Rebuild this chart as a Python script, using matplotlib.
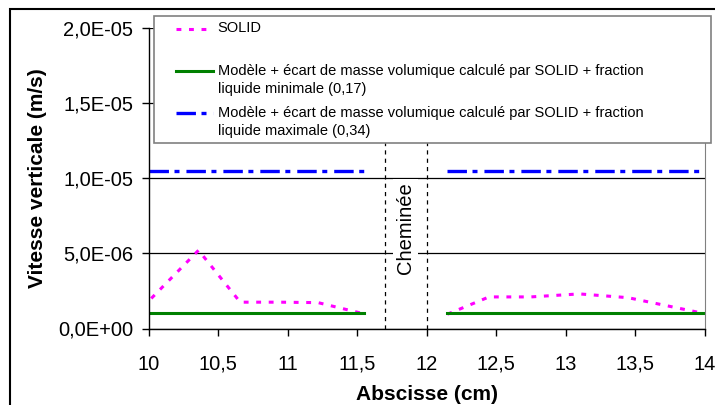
import matplotlib
matplotlib.use("Agg")
import matplotlib.pyplot as plt
from matplotlib.patches import Rectangle
from matplotlib.lines import Line2D

plt.rcParams['font.family'] = ['Liberation Sans', 'DejaVu Sans']
plt.rcParams['lines.scale_dashes'] = False

# --- données ---
solid_x_g = [10.02, 10.36, 10.66, 10.95, 11.22, 11.54]
solid_y_g = [2.0e-6, 5.2e-6, 1.75e-6, 1.75e-6, 1.72e-6, 1.0e-6]
solid_x_d = [12.15, 12.45, 12.75, 13.1, 13.45, 13.97]
solid_y_d = [0.95e-6, 2.1e-6, 2.1e-6, 2.3e-6, 2.05e-6, 1.05e-6]

modele_x_g = [10.0, 11.55]
modele_x_d = [12.15, 14.0]
v_min = [1.0e-6, 1.0e-6]      # fraction liquide 0,17
v_max = [1.05e-5, 1.05e-5]    # fraction liquide 0,34

cheminee = [11.70, 12.0]

xticks = [10, 10.5, 11, 11.5, 12, 12.5, 13, 13.5, 14]
yticks = [0, 5e-6, 1e-5, 1.5e-5, 2e-5]
ylabels = ["0,0E+00", "5,0E-06", "1,0E-05", "1,5E-05", "2,0E-05"]

leg_labels = [
    ["SOLID"],
    ["Modèle + écart de masse volumique calculé par SOLID + fraction",
     "liquide minimale (0,17)"],
    ["Modèle + écart de masse volumique calculé par SOLID + fraction",
     "liquide maximale (0,34)"],
]

W, H = 715, 405
fig = plt.figure(figsize=(W / 100, H / 100), dpi=100)
ax = fig.add_axes([148.5 / W, 1 - 328.5 / H, 556 / W, 300.8 / H])

# styles
st_solid = dict(color='#ff00ff', lw=2.2, dashes=(3.5, 5.5))
st_min = dict(color='#008000', lw=2.2, linestyle='-')
st_max = dict(color='#0000ff', lw=2.4, dashes=(14, 4, 3.6, 5))

ax.plot(solid_x_g, solid_y_g, **st_solid)
ax.plot(solid_x_d, solid_y_d, **st_solid)
ax.plot(modele_x_g, v_min, **st_min)
ax.plot(modele_x_d, v_min, **st_min)
ax.plot(modele_x_g, v_max, **st_max)
ax.plot(modele_x_d, v_max, **st_max)

for xc in cheminee:
    ax.axvline(xc, color='black', lw=0.9, dashes=(3, 3), zorder=3)

ax.text(11.85, 6.7e-6, "Cheminée", rotation=90, ha='center', va='center',
        fontsize=14.5, zorder=4,
        bbox=dict(facecolor='white', edgecolor='none', pad=2))

ax.set_xlim(10, 14)
ax.set_ylim(0, 2e-5)
ax.set_xticks(xticks)
ax.set_xticklabels([str(v).replace('.', ',') for v in xticks])
ax.set_yticks(yticks)
ax.set_yticklabels(ylabels)
ax.tick_params(axis='both', direction='out', length=5, width=1,
               labelsize=14.5, pad=6)
ax.tick_params(axis='x', pad=14)
ax.yaxis.grid(True, color='black', lw=0.9)
ax.set_axisbelow(True)

ax.spines['top'].set_visible(False)
ax.spines['right'].set_color('#808080')
ax.spines['left'].set_linewidth(1)
ax.spines['bottom'].set_linewidth(1)

ax.set_xlabel("Abscisse (cm)", fontsize=15, fontweight='bold', labelpad=8)
ax.set_ylabel("Vitesse verticale (m/s)", fontsize=15, fontweight='bold', labelpad=8)

# légende dessinée à la main (pixels -> fraction de figure)
def fx(px):
    return px / W

def fy(py):
    return 1 - py / H

fig.add_artist(Rectangle((fx(154), fy(143)), fx(711) - fx(154), fy(15.7) - fy(143),
                         transform=fig.transFigure, facecolor='white',
                         edgecolor='#808080', lw=1.2, zorder=10))
leg_styles = [st_solid, st_min, st_max]
leg_y = [28.5, 70.5, 112.5]
for lab, st, y0 in zip(leg_labels, leg_styles, leg_y):
    fig.add_artist(Line2D([fx(176), fx(213)], [fy(y0), fy(y0)],
                          transform=fig.transFigure, zorder=11, **st))
    for i, line in enumerate(lab):
        fig.text(fx(217.5), fy(y0 + i * 18.5), line, fontsize=10.5,
                 ha='left', va='center', zorder=11)

# cadre de la figure
fig.add_artist(Rectangle((fx(10), -0.2), 1.2, fy(9) + 0.2,
                         transform=fig.transFigure, fill=False,
                         edgecolor='black', lw=1.5, zorder=12))

fig.savefig("out.png", dpi=100)
